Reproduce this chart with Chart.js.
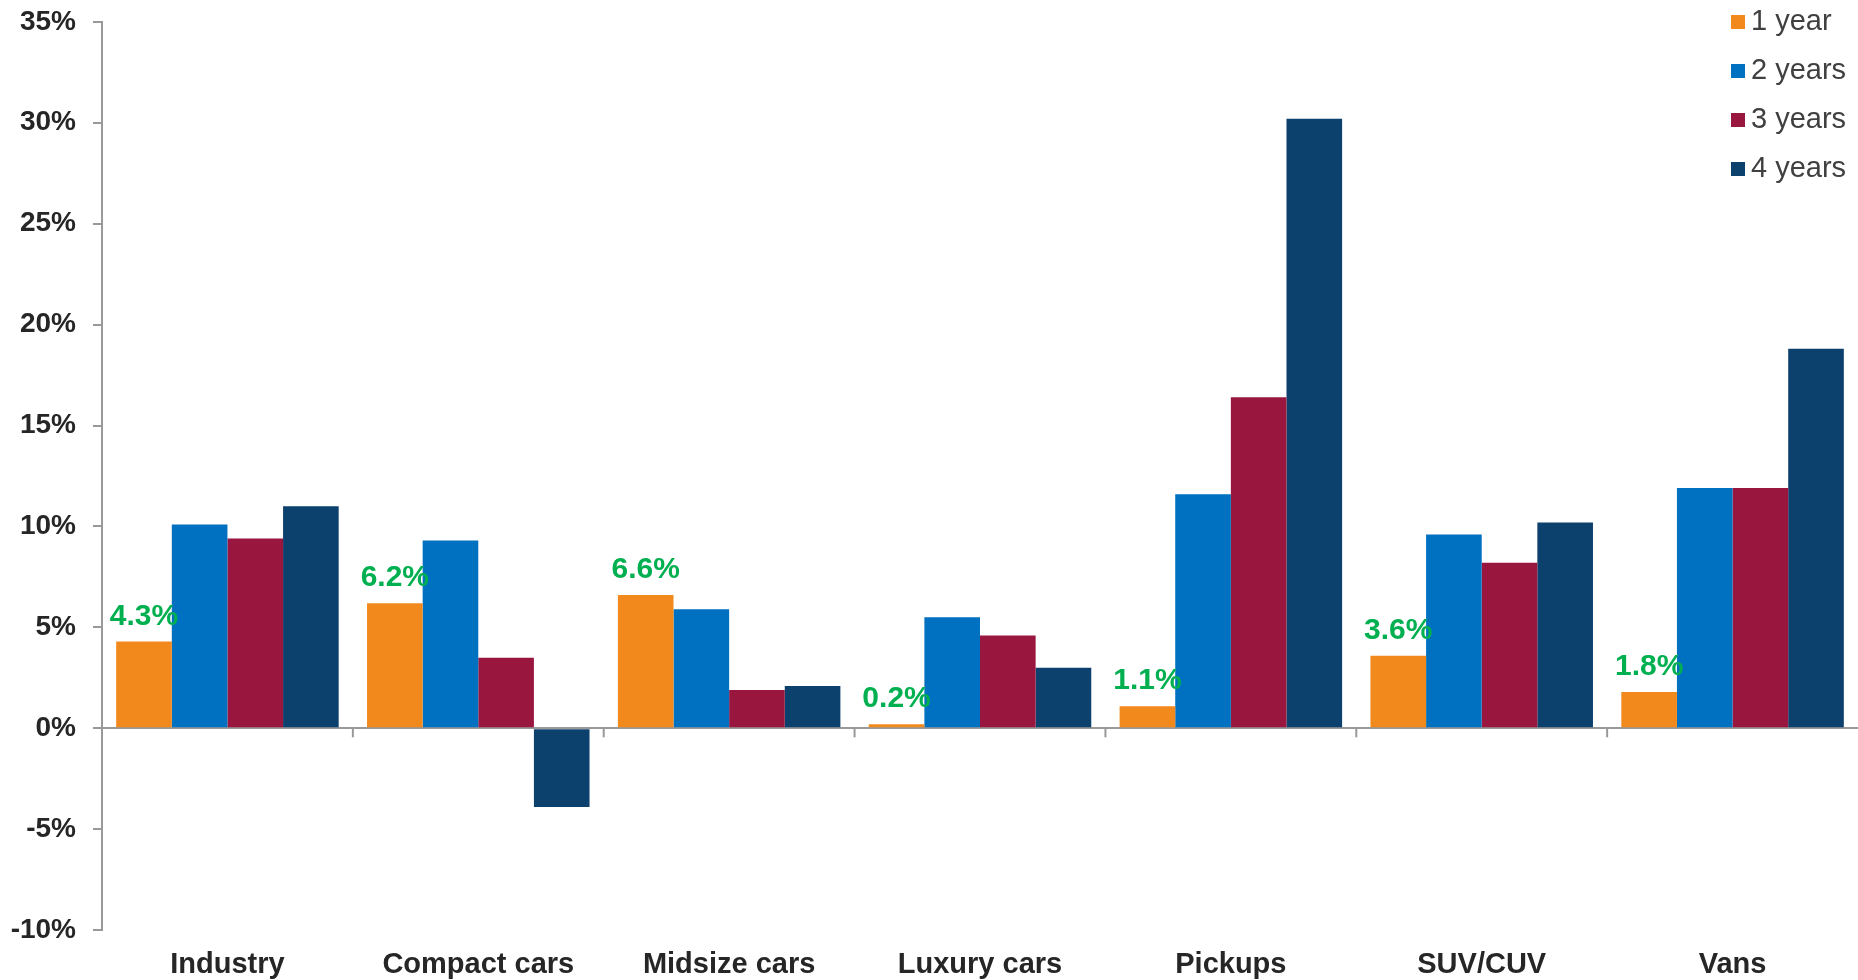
<!DOCTYPE html>
<html lang="en">
<head>
    <meta charset="UTF-8">
    <title>Vehicle Segment Change</title>
    <script src="https://cdn.jsdelivr.net/npm/chart.js"></script>
    <style>
        body {
            margin: 0;
            background: #ffffff;
            font-family: 'Liberation Sans', Arial, sans-serif;
        }
        .wrap {
            position: relative;
            width: 1858px;
            height: 980px;
            overflow: hidden;
        }
        .plot {
            position: absolute;
            left: 0;
            top: -12px;
            width: 1858px;
            height: 1007px;
        }
        .legend {
            position: absolute;
            left: 1731px;
            top: 2px;
            color: #404040;
            font-size: 29px;
        }
        .legend div {
            height: 49px;
            line-height: 36px;
            white-space: nowrap;
        }
        .legend span.box {
            display: inline-block;
            width: 14px;
            height: 14px;
            margin-right: 6px;
            vertical-align: 1px;
        }
    </style>
</head>
<body>
    <div class="wrap">
        <div class="plot"><canvas id="chart"></canvas></div>
        <div class="legend" id="legend"></div>
    </div>

    <script>
        // Data
        const categories = ['Industry', 'Compact cars', 'Midsize cars', 'Luxury cars', 'Pickups', 'SUV/CUV', 'Vans'];
        const seriesNames = ['1 year', '2 years', '3 years', '4 years'];
        const oneYear = [4.3, 6.2, 6.6, 0.2, 1.1, 3.6, 1.8];
        const twoYears = [10.1, 9.3, 5.9, 5.5, 11.6, 9.6, 11.9];
        const threeYears = [9.4, 3.5, 1.9, 4.6, 16.4, 8.2, 11.9];
        const fourYears = [11.0, -3.9, 2.1, 3.0, 30.2, 10.2, 18.8];
        const yMin = -10;
        const yMax = 35;
        const yStep = 5;

        const colors = ['#F2891C', '#0070C0', '#99163E', '#0C416E'];
        const seriesValues = [oneYear, twoYears, threeYears, fourYears];
        const fontFamily = '"Liberation Sans", Arial, sans-serif';

        // green labels over the 1 year bars
        const labelPlugin = {
            id: 'oneYearLabels',
            afterDatasetsDraw(chart) {
                const ctx = chart.ctx;
                const meta = chart.getDatasetMeta(0);
                ctx.save();
                ctx.fillStyle = '#00B050';
                ctx.font = 'bold 30px ' + fontFamily;
                ctx.textAlign = 'center';
                ctx.textBaseline = 'alphabetic';
                meta.data.forEach((bar, i) => {
                    ctx.fillText(oneYear[i].toFixed(1) + '%', bar.x, bar.y - 17);
                });
                ctx.restore();
            }
        };

        // short tick marks between categories, hanging from the zero line
        const zeroTicks = {
            id: 'zeroTicks',
            afterDatasetsDraw(chart) {
                const x = chart.scales.x;
                const y0 = chart.scales.y.getPixelForValue(0);
                const ctx = chart.ctx;
                ctx.save();
                ctx.strokeStyle = '#999999';
                ctx.lineWidth = 2;
                for (let i = 1; i < categories.length; i++) {
                    const px = (x.getPixelForTick(i - 1) + x.getPixelForTick(i)) / 2;
                    ctx.beginPath();
                    ctx.moveTo(px, y0);
                    ctx.lineTo(px, y0 + 9);
                    ctx.stroke();
                }
                ctx.restore();
            }
        };

        const chart = new Chart(document.getElementById('chart'), {
            type: 'bar',
            data: {
                labels: categories,
                datasets: seriesNames.map((name, i) => ({
                    label: name,
                    data: seriesValues[i],
                    backgroundColor: colors[i],
                    borderWidth: 0,
                    categoryPercentage: 0.887,
                    barPercentage: 1.0
                }))
            },
            options: {
                responsive: true,
                maintainAspectRatio: false,
                animation: false,
                layout: {
                    padding: { top: 7, left: 0, right: 0, bottom: 4 }
                },
                scales: {
                    x: {
                        grid: { display: false },
                        border: { display: false },
                        ticks: {
                            color: '#262626',
                            padding: 9,
                            font: { family: fontFamily, size: 29, weight: 'bold' }
                        }
                    },
                    y: {
                        min: yMin,
                        max: yMax,
                        afterFit: (scale) => { scale.width = 102; },
                        border: { display: true, color: '#999999', width: 2 },
                        grid: {
                            color: (c) => c.tick && c.tick.value === 0 ? '#999999' : 'rgba(0,0,0,0)',
                            tickColor: '#999999',
                            lineWidth: 2,
                            tickLength: 9
                        },
                        ticks: {
                            stepSize: yStep,
                            color: '#262626',
                            padding: 17,
                            font: { family: fontFamily, size: 28, weight: 'bold' },
                            callback: (v) => v + '%'
                        }
                    }
                },
                plugins: {
                    legend: { display: false },
                    tooltip: { enabled: false }
                }
            },
            plugins: [labelPlugin, zeroTicks]
        });

        // legend
        const legend = document.getElementById('legend');
        seriesNames.forEach((name, i) => {
            const row = document.createElement('div');
            const box = document.createElement('span');
            box.className = 'box';
            box.style.background = colors[i];
            row.appendChild(box);
            row.appendChild(document.createTextNode(name));
            legend.appendChild(row);
        });
    </script>
</body>
</html>
